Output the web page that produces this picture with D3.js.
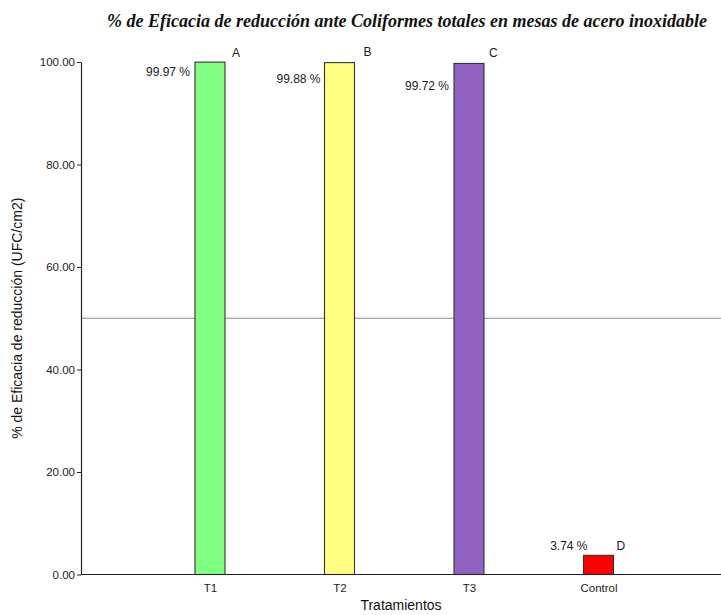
<!DOCTYPE html>
<html>
<head>
<meta charset="utf-8">
<script src="https://cdn.jsdelivr.net/npm/d3@7"></script>
<style>
  html, body { margin: 0; padding: 0; background: #fff; }
  svg { display: block; }
</style>
</head>
<body>
<svg id="chart" width="721" height="615"></svg>
<script>
// ---- data ----
const categories = ["T1", "T2", "T3", "Control"];
const values = [99.97, 99.88, 99.72, 3.74];
const valueLabels = ["99.97 %", "99.88 %", "99.72 %", "3.74 %"];
const groupLetters = ["A", "B", "C", "D"];
const barColors = ["#80FF80", "#FFFF80", "#9061C1", "#FF0000"];
const yTicks = [0, 20, 40, 60, 80, 100];
const refLine = 50;

// ---- layout (not data) ----
const plotLeft = 81, plotRight = 721, plotTop = 62, plotBottom = 574.5;
const barW = 30;
// label placement tweaks (pixels)
const valLabelDx = [-20, -19, -20, -11];
const valLabelY  = [72, 79, 86, null];
const letterDx   = [22, 24, 20, 18];
const letterY    = [53, 52, 53, null];

const svg = d3.select("#chart");

const y = d3.scaleLinear().domain([0, 100]).range([plotBottom, plotTop]);
const x = d3.scalePoint().domain(categories).range([210, 598.5]);

// reference line at 50
svg.append("line")
  .attr("x1", plotLeft).attr("x2", plotRight)
  .attr("y1", y(refLine)).attr("y2", y(refLine))
  .attr("stroke", "#8a8a8a").attr("stroke-width", 1);

// bars
svg.selectAll("rect.bar").data(values).enter().append("rect")
  .attr("class", "bar")
  .attr("x", (d, i) => x(categories[i]) - barW / 2)
  .attr("width", barW)
  .attr("y", d => y(d))
  .attr("height", d => plotBottom - y(d))
  .attr("fill", (d, i) => barColors[i])
  .attr("stroke", "#333")
  .attr("stroke-width", 1.1);

// value labels
svg.selectAll("text.val").data(values).enter().append("text")
  .attr("class", "val")
  .attr("x", (d, i) => x(categories[i]) + valLabelDx[i])
  .attr("y", (d, i) => valLabelY[i] !== null ? valLabelY[i] : y(d) - 10)
  .attr("dy", "0.35em")
  .attr("text-anchor", "end")
  .attr("font-family", "Liberation Sans, Arial, sans-serif")
  .attr("font-size", 12)
  .attr("fill", "#1a1a1a")
  .text((d, i) => valueLabels[i]);

// group letters
svg.selectAll("text.let").data(values).enter().append("text")
  .attr("class", "let")
  .attr("x", (d, i) => x(categories[i]) + letterDx[i])
  .attr("y", (d, i) => letterY[i] !== null ? letterY[i] : y(d) - 10)
  .attr("dy", "0.35em")
  .attr("text-anchor", "start")
  .attr("font-family", "Liberation Sans, Arial, sans-serif")
  .attr("font-size", 12)
  .attr("fill", "#1a1a1a")
  .text((d, i) => groupLetters[i]);

// y axis
const yAxis = d3.axisLeft(y).tickValues(yTicks).tickFormat(d3.format(".2f"))
  .tickSizeInner(4).tickSizeOuter(0).tickPadding(2);
const gy = svg.append("g").attr("transform", `translate(${plotLeft},0)`).call(yAxis);
gy.select(".domain").attr("stroke", "#222").attr("stroke-width", 1.2);
gy.selectAll(".tick line").attr("stroke", "#222");
gy.selectAll(".tick text")
  .attr("font-family", "Liberation Sans, Arial, sans-serif")
  .attr("font-size", 11.5).attr("fill", "#222");

// x axis
const xAxis = d3.axisBottom(x).tickSize(0).tickPadding(9);
const gx = svg.append("g").attr("transform", `translate(0,${plotBottom})`).call(xAxis);
gx.select(".domain").remove();
gx.append("line").attr("x1", plotLeft).attr("x2", plotRight).attr("y1", 0).attr("y2", 0)
  .attr("stroke", "#222").attr("stroke-width", 1.2);
gx.selectAll(".tick text")
  .attr("font-family", "Liberation Sans, Arial, sans-serif")
  .attr("font-size", 11.5).attr("fill", "#222");

// axis titles
svg.append("text")
  .attr("x", (plotLeft + plotRight) / 2).attr("y", 610)
  .attr("text-anchor", "middle")
  .attr("font-family", "Liberation Sans, Arial, sans-serif")
  .attr("font-size", 14).attr("fill", "#111")
  .text("Tratamientos");

svg.append("text")
  .attr("transform", `translate(22,${(plotTop + plotBottom) / 2}) rotate(-90)`)
  .attr("text-anchor", "middle")
  .attr("font-family", "Liberation Sans, Arial, sans-serif")
  .attr("font-size", 14).attr("fill", "#111")
  .text("% de Eficacia de reducción (UFC/cm2)");

// title
svg.append("text")
  .attr("x", 407).attr("y", 27)
  .attr("text-anchor", "middle")
  .attr("font-family", "Liberation Serif, Times New Roman, serif")
  .attr("font-style", "italic").attr("font-weight", "bold")
  .attr("font-size", 18).attr("fill", "#111")
  .text("% de Eficacia de reducción ante Coliformes totales en mesas de acero inoxidable");
</script>
</body>
</html>
